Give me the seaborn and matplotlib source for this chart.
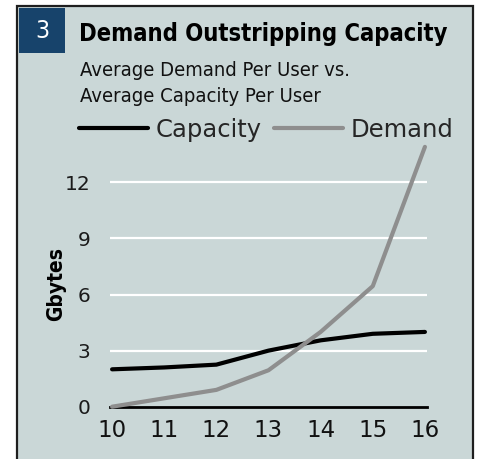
import numpy as np
import pandas as pd
import seaborn as sns
import matplotlib.pyplot as plt
from matplotlib import font_manager
from matplotlib.patches import Rectangle

years = [10, 11, 12, 13, 14, 15, 16]
capacity = [2.0, 2.1, 2.25, 3.0, 3.55, 3.9, 4.0]
demand = [0.0, 0.45, 0.9, 1.95, 4.0, 6.45, 13.9]
y_ticks = [0, 3, 6, 9, 12]

df = pd.DataFrame({
    "year": years * 2,
    "gb": capacity + demand,
    "series": ["Capacity"] * len(years) + ["Demand"] * len(years),
})

sns.set_theme(style="white")

names = {f.name for f in font_manager.fontManager.ttflist}
if "Liberation Sans Narrow" in names:
    narrow = dict(family="Liberation Sans Narrow")
else:
    narrow = dict(family="DejaVu Sans", stretch="condensed")
plt.rcParams["font.family"] = narrow["family"]

bg = "#cad7d7"
W, H = 479, 459
fig = plt.figure(figsize=(W / 100, H / 100), dpi=100)
fig.patch.set_facecolor("white")

# panel frame and number box (behind the axes)
fig.patches.append(Rectangle((17 / W, 0 - 0.01), 456 / W, (H - 6) / H + 0.01,
                             transform=fig.transFigure, facecolor=bg,
                             edgecolor="#1e1e1e", lw=1.6, zorder=-2))
fig.patches.append(Rectangle((19 / W, 1 - 53 / H), 46 / W, 44.5 / H,
                             transform=fig.transFigure, facecolor="#17436b",
                             edgecolor="none", zorder=-1))
fig.text(42 / W, 1 - 31 / H, "3", color="white", fontsize=18,
         ha="center", va="center", **narrow)
fig.text(79 / W, 1 - 34 / H, "Demand Outstripping Capacity", fontsize=17,
         fontweight="bold", ha="left", va="center", color="black", **narrow)
fig.text(80 / W, 1 - 70 / H, "Average Demand Per User vs.", fontsize=14.5,
         ha="left", va="center", color="#111111", **narrow)
fig.text(80 / W, 1 - 96 / H, "Average Capacity Per User", fontsize=14.5,
         ha="left", va="center", color="#111111", **narrow)

ax = fig.add_axes([110 / W, (H - 406.7) / H, 317 / W, (406.7 - 145) / H])
ax.patch.set_alpha(0)

sns.lineplot(data=df, x="year", y="gb", hue="series",
             palette={"Capacity": "black", "Demand": "#8e8e8e"},
             linewidth=3, ax=ax, legend=True, clip_on=False, zorder=3)

ax.set_xlim(9.96, 16.04)
ax.set_ylim(0, 14)
ax.set_xticks(years)
ax.set_yticks(y_ticks)
ax.set_xticklabels([str(y) for y in years], fontsize=16.5, color="#111111")
ax.set_yticklabels([str(v) for v in y_ticks], fontsize=14.5, color="#1a1a1a")
ax.tick_params(axis="x", length=0, pad=9)
ax.tick_params(axis="y", length=0, pad=14)
for v in y_ticks[1:]:
    ax.axhline(v, color="white", lw=1.6, zorder=1)
sns.despine(ax=ax, left=True, top=True, right=True)
ax.spines["bottom"].set_color("black")
ax.spines["bottom"].set_linewidth(2)
ax.spines["bottom"].set_zorder(2)
ax.set_xlabel("")
ax.set_ylabel("Gbytes", fontsize=15, fontweight="bold",
              fontstretch="condensed", color="black")
ax.yaxis.set_label_coords(-0.137, 0.47)

handles, labels = ax.get_legend_handles_labels()
ax.get_legend().remove()
fig.legend(handles, labels, loc="center left",
           bbox_to_anchor=(79 / W, 1 - 130 / H), ncol=2, frameon=False,
           fontsize=17.5, handlelength=2.85, handletextpad=0.3,
           columnspacing=0.5, borderpad=0, borderaxespad=0)

fig.savefig("out.png", dpi=100, facecolor="white")
